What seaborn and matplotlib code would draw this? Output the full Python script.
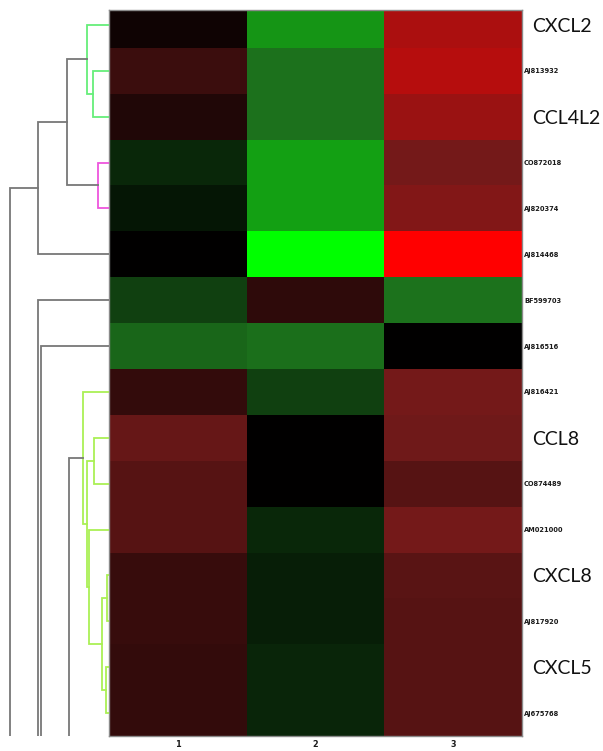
import numpy as np
import pandas as pd
import matplotlib
matplotlib.use("Agg")
import matplotlib.pyplot as plt
import seaborn as sns
from matplotlib.colors import LinearSegmentedColormap
from matplotlib import font_manager

# Row labels (top to bottom) and which ones are the big gene names
ROW_LABELS = ["CXCL2", "AJ813932", "CCL4L2", "CO872018", "AJ820374", "AJ814468",
              "BF599703", "AJ816516", "AJ816421", "CCL8", "CO874489", "AM021000",
              "CXCL8", "AJ817920", "CXCL5", "AJ675768"]
BIG_LABELS = ["CXCL2", "CCL4L2", "CCL8", "CXCL8", "CXCL5"]
BOXED_LABELS = ["CXCL2", "CCL8", "CXCL8", "CXCL5"]
COL_LABELS = ["1", "2", "3"]

# Expression values (positive = red, negative = green)
COND_1 = [0.07, 0.25, 0.14, -0.17, -0.10, 0.00, -0.28, -0.44,
          0.22, 0.44, 0.37, 0.37, 0.24, 0.24, 0.22, 0.22]
COND_2 = [-0.62, -0.49, -0.49, -0.66, -0.66, -1.00, 0.20, -0.48,
          -0.28, 0.00, 0.00, -0.17, -0.13, -0.13, -0.16, -0.16]
COND_3 = [0.70, 0.74, 0.64, 0.50, 0.55, 1.00, -0.50, 0.00,
          0.50, 0.48, 0.37, 0.50, 0.39, 0.37, 0.37, 0.37]

# Dendrogram merges: (child a, child b, height, colour); leaves are 0..15,
# -1 is a branch that continues below the cropped picture
OFF = -1
MERGES = [
    (1, 2, 0.162, "#66ee7a"),
    (0, 16, 0.222, "#66ee7a"),
    (3, 4, 0.111, "#ee55dd"),
    (17, 18, 0.424, "#777777"),
    (19, 5, 0.717, "#777777"),
    (9, 10, 0.152, "#aaf055"),
    (12, 13, 0.020, "#aaf055"),
    (14, 15, 0.030, "#aaf055"),
    (22, 23, 0.071, "#aaf055"),
    (11, 24, 0.202, "#aaf055"),
    (21, 25, 0.222, "#aaf055"),
    (8, 26, 0.263, "#aaf055"),
    (27, OFF, 0.404, "#777777"),
    (7, OFF, 0.690, "#777777"),
    (6, OFF, 0.714, "#777777"),
    (20, OFF, 1.000, "#777777"),
]

W, H = 603, 751
HM_LEFT, HM_RIGHT, HM_TOP, HM_BOTTOM = 109, 522, 10, 736
ROW_H = 45.875


def small_font_props():
    # prefer a narrow face for the accession numbers
    fonts = font_manager.fontManager.ttflist
    names = {f.name for f in fonts}
    if "Liberation Sans Narrow" in names:
        return {"family": "Liberation Sans Narrow", "stretch": "normal", "size": 6.5}
    for f in fonts:
        if f.name == "DejaVu Sans" and f.stretch == "condensed":
            return {"family": "DejaVu Sans", "stretch": "condensed", "size": 5.3}
    return {"family": "Liberation Sans", "stretch": "normal", "size": 5.6}


def draw_dendrogram(ax, n_leaves):
    pos = {i: i + 0.5 for i in range(n_leaves)}
    hgt = {i: 0.0 for i in range(n_leaves)}
    pos[OFF] = 60.0
    hgt[OFF] = 0.0
    for k, (a, b, h, c) in enumerate(MERGES):
        node = n_leaves + k
        ya, yb = pos[a], pos[b]
        ax.plot([hgt[a], h, h, hgt[b]], [ya, ya, yb, yb], color=c, lw=1.3,
                solid_joinstyle="miter")
        pos[node] = (ya + yb) / 2
        hgt[node] = h


def plot_heatmap():
    df = pd.DataFrame({"1": COND_1, "2": COND_2, "3": COND_3}, index=ROW_LABELS)

    cmap = LinearSegmentedColormap.from_list(
        "gkr",
        [(0.0, (0, 1, 0)), (0.25, (0.11, 0.45, 0.11)), (0.5, (0, 0, 0)),
         (0.75, (0.45, 0.1, 0.1)), (1.0, (1, 0, 0))])

    fig = plt.figure(figsize=(W / 100, H / 100), dpi=100)
    fig.patch.set_facecolor("white")

    bottom = (H - HM_BOTTOM) / H
    height = (HM_BOTTOM - HM_TOP) / H
    ax_h = fig.add_axes([HM_LEFT / W, bottom, (HM_RIGHT - HM_LEFT) / W, height])
    ax_d = fig.add_axes([0, bottom, HM_LEFT / W, height])

    sns.heatmap(df, cmap=cmap, vmin=-1, vmax=1, cbar=False, ax=ax_h)

    y_top = (HM_TOP - 2) / ROW_H
    ax_h.set_ylim(len(ROW_LABELS), y_top)

    sf = small_font_props()

    ax_h.yaxis.tick_right()
    ax_h.set_yticks(np.arange(len(ROW_LABELS)) + 0.5)
    ax_h.set_yticklabels(ROW_LABELS, rotation=0)
    ax_h.set_ylabel("")
    ax_h.tick_params(axis="both", length=0)
    for tick, lab in zip(ax_h.yaxis.get_major_ticks(), ROW_LABELS):
        t = tick.label2
        if lab in BIG_LABELS:
            tick.set_pad(7)
            t.set_fontsize(14)
            t.set_fontfamily("Lato")
            t.set_color("#111111")
            if lab in BOXED_LABELS:
                t.set_bbox(dict(boxstyle="square,pad=0.5", facecolor="white",
                                edgecolor="none"))
        else:
            tick.set_pad(1.5)
            t.set_fontsize(sf["size"])
            t.set_fontfamily(sf["family"])
            t.set_fontstretch(sf["stretch"])
            t.set_fontweight("bold")
            t.set_color("#1a1a1a")

    ax_h.set_xticks(np.arange(len(COL_LABELS)) + 0.5)
    ax_h.set_xticklabels(COL_LABELS)
    for t in ax_h.get_xticklabels():
        t.set_fontsize(sf["size"] + 1.2)
        t.set_fontfamily(sf["family"])
        t.set_fontstretch(sf["stretch"])
        t.set_fontweight("bold")
        t.set_color("#1a1a1a")
    ax_h.tick_params(axis="x", pad=3)
    ax_h.set_xlabel("")

    for s in ax_h.spines.values():
        s.set_visible(True)
        s.set_color("#8a8a8a")
        s.set_linewidth(1.0)

    draw_dendrogram(ax_d, len(ROW_LABELS))
    ax_d.set_ylim(len(ROW_LABELS), y_top)
    ax_d.set_xlim(HM_LEFT / 99, 0)
    ax_d.axis("off")

    fig.savefig("out.png", dpi=100, facecolor="white")


if __name__ == "__main__":
    plot_heatmap()
